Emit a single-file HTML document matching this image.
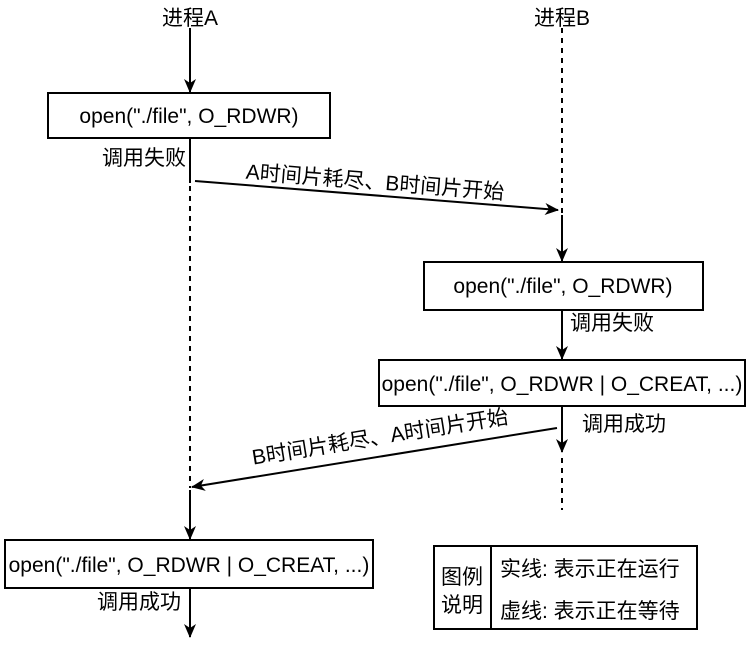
<!DOCTYPE html>
<html><head><meta charset="utf-8"><style>
body{margin:0;background:#fff}
svg text{font-family:"Liberation Sans","Noto Sans CJK SC",sans-serif;font-size:21px;fill:#000}
</style></head><body>
<svg width="754" height="643" viewBox="0 0 754 643" xmlns="http://www.w3.org/2000/svg">
<defs><marker id="a" markerWidth="14" markerHeight="12" refX="13" refY="6" orient="auto" markerUnits="userSpaceOnUse"><path d="M0,0 L14,6 L0,12 L4,6 Z" fill="#000"/></marker></defs>
<g stroke="#000" stroke-width="2" fill="none">
<line x1="190" y1="28" x2="190" y2="92" marker-end="url(#a)"/>
<line x1="190" y1="138" x2="190" y2="183"/>
<line x1="190" y1="186" x2="190" y2="488" stroke-dasharray="5,5"/>
<line x1="190" y1="490" x2="190" y2="539" marker-end="url(#a)"/>
<line x1="190" y1="588" x2="190" y2="637" marker-end="url(#a)"/>
<line x1="195" y1="181" x2="558" y2="210" marker-end="url(#a)"/>
<line x1="557" y1="428" x2="192" y2="487" marker-end="url(#a)"/>
<line x1="562" y1="28" x2="562" y2="215" stroke-dasharray="5,5"/>
<line x1="562" y1="215" x2="562" y2="261" marker-end="url(#a)"/>
<line x1="562" y1="310" x2="562" y2="359" marker-end="url(#a)"/>
<line x1="562" y1="406" x2="562" y2="452" marker-end="url(#a)"/>
<line x1="562" y1="458" x2="562" y2="510" stroke-dasharray="5,5"/>
<rect x="48" y="93" width="282" height="45" fill="#fff"/>
<rect x="424" y="262" width="279" height="48" fill="#fff"/>
<rect x="379" y="360" width="366" height="46" fill="#fff"/>
<rect x="5" y="540" width="368" height="48" fill="#fff"/>
<rect x="434" y="546" width="263" height="83" fill="#fff"/>
<line x1="491" y1="546" x2="491" y2="629"/>
</g>
<text x="190" y="25" text-anchor="middle">进程A</text>
<text x="562" y="25" text-anchor="middle">进程B</text>
<text x="189" y="123" text-anchor="middle">open("./file", O_RDWR)</text>
<text x="563" y="293" text-anchor="middle">open("./file", O_RDWR)</text>
<text x="562" y="391" text-anchor="middle">open("./file", O_RDWR | O_CREAT, ...)</text>
<text x="189" y="572" text-anchor="middle">open("./file", O_RDWR | O_CREAT, ...)</text>
<text x="102" y="165">调用失败</text>
<text x="570" y="330">调用失败</text>
<text x="582" y="431">调用成功</text>
<text x="97" y="609">调用成功</text>
<text x="375" y="189" text-anchor="middle" transform="rotate(4.6 375 182)">A时间片耗尽、B时间片开始</text>
<text x="380" y="444" text-anchor="middle" transform="rotate(-9.2 380 437)">B时间片耗尽、A时间片开始</text>
<text x="462" y="584" text-anchor="middle">图例</text>
<text x="462" y="612" text-anchor="middle">说明</text>
<text x="500" y="576">实线: 表示正在运行</text>
<text x="500" y="618">虚线: 表示正在等待</text>
</svg>
</body></html>
